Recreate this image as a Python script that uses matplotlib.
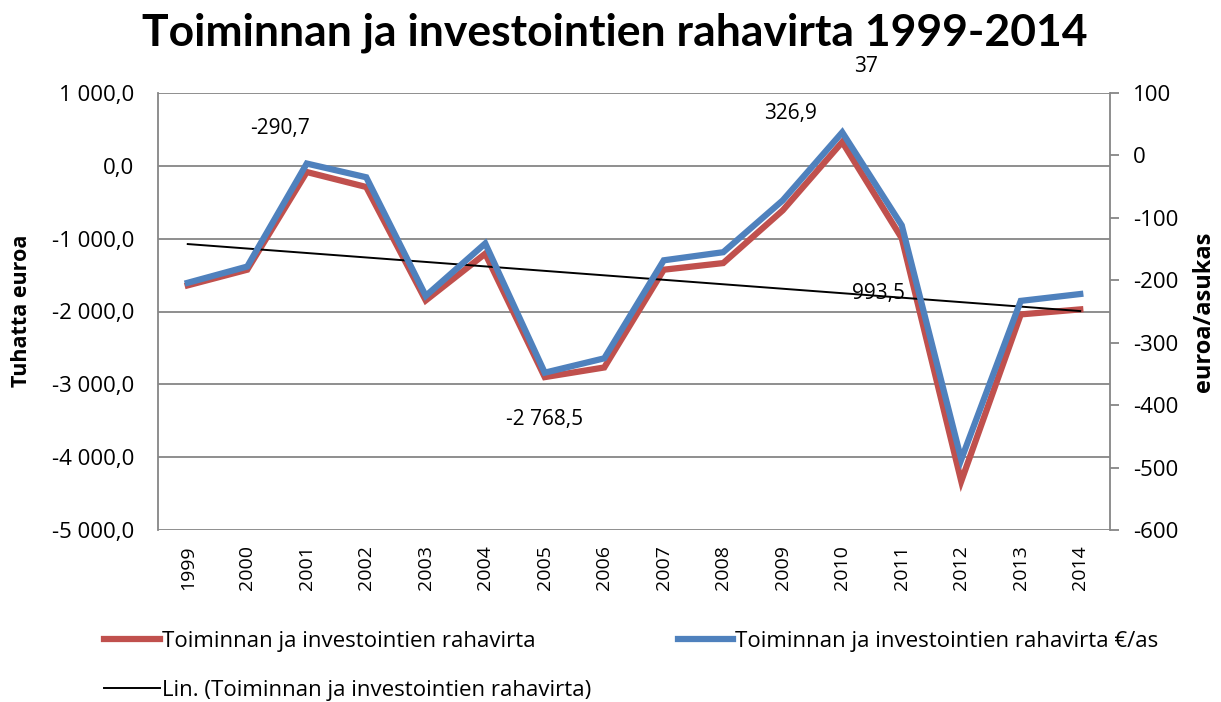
import matplotlib
matplotlib.use("Agg")
import matplotlib.pyplot as plt
from matplotlib.ticker import FixedLocator, FuncFormatter
from matplotlib.lines import Line2D
import numpy as np

years = ["1999", "2000", "2001", "2002", "2003", "2004", "2005", "2006",
         "2007", "2008", "2009", "2010", "2011", "2012", "2013", "2014"]
rahavirta = [-1641, -1426, -85, -290.7, -1848, -1206, -2901, -2768.5,
             -1426, -1335, -611, 326.9, -993.5, -4330, -2040, -1971]
rahavirta_as = [-204, -178, -13, -35, -225, -141, -348, -325,
                -168, -155, -72, 37, -112, -487, -233, -222]

title = "Toiminnan ja investointien rahavirta 1999-2014"
label_red = "Toiminnan ja investointien rahavirta"
label_blue = "Toiminnan ja investointien rahavirta €/as"
label_trend = "Lin. (Toiminnan ja investointien rahavirta)"

plt.rcParams['font.family'] = ['Open Sans', 'DejaVu Sans']

RED = "#c0504d"
BLUE = "#4f81bd"
GRID = "#868686"

fig = plt.figure(figsize=(12.21, 7.02), dpi=100)
W, H = 1221, 702
L, R, T, B = 158, 1110, 93, 530
ax = fig.add_axes([L / W, 1 - B / H, (R - L) / W, (B - T) / H])
ax2 = ax.twinx()

x = np.arange(len(years))
ax.set_xlim(-0.5, len(years) - 0.5)
ax.set_ylim(-5000, 1000)
ax2.set_ylim(-600, 100)

def fi(v, pos=None):
    s = f"{abs(v):,.1f}".replace(",", " ").replace(".", ",")
    return ("-" if v < 0 else "") + s

ax.yaxis.set_major_locator(FixedLocator(np.arange(-5000, 1001, 1000)))
ax.yaxis.set_major_formatter(FuncFormatter(fi))
ax2.yaxis.set_major_locator(FixedLocator(np.arange(-600, 101, 100)))
ax2.yaxis.set_major_formatter(FuncFormatter(lambda v, p: f"{int(v)}"))

ax.grid(axis='y', color=GRID, linewidth=1.3)
ax.set_axisbelow(True)
for s in ['top', 'bottom']:
    ax.spines[s].set_visible(False)
    ax2.spines[s].set_visible(False)
ax.spines['left'].set_color(GRID)
ax.spines['left'].set_linewidth(1.3)
ax.spines['right'].set_visible(False)
ax2.spines['left'].set_visible(False)
ax2.spines['right'].set_color(GRID)
ax2.spines['right'].set_linewidth(1.3)

ax.tick_params(axis='y', length=0, labelsize=16, pad=17)
ax2.tick_params(axis='y', length=6.5, color=GRID, width=1.3, labelsize=16, pad=10)
ax.set_xticks(x)
ax.set_xticklabels(years, rotation=90, fontsize=14)
ax.tick_params(axis='x', length=0, pad=11)

ax.plot(x, rahavirta, color=RED, linewidth=4.5, solid_joinstyle='miter', zorder=3)
coef = np.polyfit(x, rahavirta, 1)
ax.plot(x, np.polyval(coef, x), color='black', linewidth=1.4, zorder=5)
ax2.plot(x, rahavirta_as, color=BLUE, linewidth=4.5, solid_joinstyle='miter', zorder=3)

# data labels
def lab(a, i, vals, txt, dx, dy):
    a.annotate(txt, xy=(x[i], vals[i]), xytext=(dx, dy), textcoords='offset pixels',
               ha='center', va='center', fontsize=15, zorder=6)

lab(ax, 3, rahavirta, "-290,7", -86, 59)
lab(ax, 11, rahavirta, "326,9", -52, 29)
lab(ax, 7, rahavirta, "-2 768,5", -60, -52)
lab(ax, 12, rahavirta, "993,5", -23, -55)
lab(ax2, 11, rahavirta_as, "37", 24, 66)

fig.text(615 / W, 1 - 33 / H, title, ha='center', va='center',
         fontsize=32, fontweight='bold', family=['Lato', 'DejaVu Sans'])
fig.text(22 / W, 1 - 311 / H, "Tuhatta euroa", rotation=90, ha='center', va='center',
         fontsize=15.5, fontweight='bold')
fig.text(1204 / W, 1 - 312 / H, "euroa/asukas", rotation=90, ha='center', va='center',
         fontsize=17, fontweight='bold')

handles = [Line2D([], [], color=RED, linewidth=4.5),
           Line2D([], [], color='black', linewidth=1.4),
           Line2D([], [], color=BLUE, linewidth=4.5)]
labels = [label_red, label_trend, label_blue]
fig.legend(handles, labels, ncol=2, loc='upper left', bbox_to_anchor=(104 / W, 1 - 631 / H),
           frameon=False, fontsize=16, handlelength=2.5, handletextpad=0.1,
           columnspacing=3.9, labelspacing=1.25, borderpad=0, borderaxespad=0)

fig.savefig("out.png", dpi=100)
